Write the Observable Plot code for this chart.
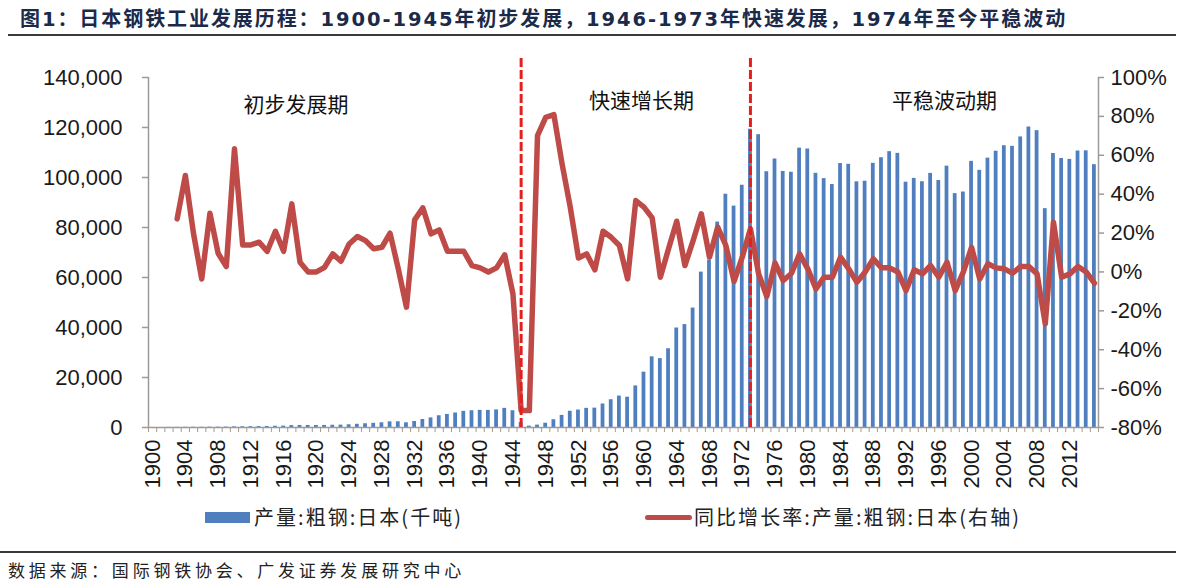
<!DOCTYPE html>
<html><head><meta charset="utf-8">
<script src="https://cdn.jsdelivr.net/npm/d3@7"></script>
<script src="https://cdn.jsdelivr.net/npm/@observablehq/plot@0.6"></script>
<style>
body{margin:0;width:1200px;height:583px;position:relative;background:#fff;overflow:hidden;font-family:"Noto Sans CJK SC","Noto Sans",sans-serif;color:#222}
#title{position:absolute;left:20px;top:3px;font-size:20px;font-weight:700;color:#1c2a4a;white-space:nowrap}
#title .n{font-family:"DejaVu Sans",sans-serif;font-size:19.5px}
.hr{position:absolute;height:2px;background:#3a3a3a}
#chart{position:absolute;left:0;top:40px}
.lg{position:absolute;font-size:20px;white-space:nowrap;color:#222;line-height:1}
.sw{position:absolute}
#foot{position:absolute;left:8px;top:561px;font-size:17px;white-space:nowrap;color:#222;line-height:1}
</style></head>
<body>
<div id="title">图<span class="n">1</span>：日本钢铁工业发展历程：<span class="n">1900-1945</span>年初步发展，<span class="n">1946-1973</span>年快速发展，<span class="n">1974</span>年至今平稳波动</div>
<div class="hr" style="left:8px;top:34px;width:1168px"></div>
<div id="chart"></div>
<div class="sw" style="left:205px;top:512px;width:45px;height:11px;background:#4f7fbf"></div>
<div class="lg" id="lg1" style="left:254px;top:507px">产量:粗钢:日本(千吨)</div>
<div class="sw" style="left:645px;top:515px;width:47px;height:5px;border-radius:3px;background:#be4b48"></div>
<div class="lg" id="lg2" style="left:694px;top:507px">同比增长率:产量:粗钢:日本(右轴)</div>
<div class="hr" style="left:0px;top:551px;width:1176px"></div>
<div id="foot">数据来源：国际钢铁协会、广发证券发展研究中心</div>
<script>
// ---- data ----
const years = d3.range(1900, 2016);
// 产量:粗钢:日本 (千吨), 1900-2015
const production = [
  null, null, 49, 62, 93, 111, 107, 139, 152, 157,
  256, 292, 332, 383, 424, 513, 567, 766, 804, 804,
  811, 823, 900, 949, 1086, 1283, 1490, 1667, 1879, 2253,
  2289, 1883, 2398, 3198, 3844, 4704, 5223, 5801, 6472, 6696,
  6856, 6844, 7044, 7650, 6700, 1963, 557, 952, 1715, 3111,
  4839, 6502, 6988, 7662, 7750, 9408, 11106, 12570, 12118, 16629,
  22138, 28268, 27546, 31501, 39799, 41161, 47784, 62154, 66893, 82166,
  93322, 88557, 96900, 119322, 117131, 102313, 107399, 102405, 102105, 111748,
  111395, 101676, 99548, 97179, 105586, 105279, 98275, 98513, 105681, 107908,
  110339, 109649, 98132, 99632, 98295, 101640, 98801, 104545, 93548, 94192,
  106444, 102866, 107745, 110511, 112718, 112471, 116226, 120203, 118739, 87534,
  109599, 107601, 107232, 110595, 110666, 105134
];
// 同比增长率 (%), 1900-2015
const growth = [
  null, null, null, 27.3, 49.6, 19.6, -3.6, 30.2, 9.6, 2.8,
  63.3, 13.9, 13.9, 15.3, 10.6, 20.9, 10.6, 35.0, 5.0, 0.0,
  0.0, 2.4, 9.3, 5.5, 14.4, 18.2, 16.1, 11.9, 12.7, 19.9,
  1.6, -18.1, 26.8, 33.0, 19.6, 21.6, 10.6, 10.6, 10.6, 3.3,
  2.1, 0.0, 2.1, 8.8, -11.3, -71.3, -71.3, 70.1, 79.5, 80.9,
  55.6, 33.3, 7.2, 9.3, 1.1, 20.9, 17.8, 13.6, -3.6, 36.7,
  33.3, 27.8, -2.7, 11.9, 26.1, 3.3, 16.1, 29.9, 7.6, 23.0,
  13.6, -4.8, 7.6, 22.2, -1.0, -12.6, 4.6, -4.4, -0.8, 9.3,
  1.6, -8.7, -2.7, -2.7, 7.6, 1.6, -5.3, 0.0, 6.7, 2.1,
  2.1, 0.0, -9.6, 1.1, -1.0, 3.3, -2.7, 5.0, -9.6, 0.0,
  12.7, -3.6, 4.2, 2.1, 1.6, -0.6, 2.8, 2.8, -1.0, -26.7,
  25.6, -2.7, -1.0, 2.8, 0.0, -5.8
];
const leftTicks = [0, 20000, 40000, 60000, 80000, 100000, 120000, 140000];
const rightTicks = [-80, -60, -40, -20, 0, 20, 40, 60, 80, 100];
const yearLabels = d3.range(1900, 2013, 4);
const phaseYears = [1945, 1973];
const phaseLabels = ["初步发展期", "快速增长期", "平稳波动期"];
const phaseLabelYear = [1917.5, 1959.7, 1996.7];
const phaseLabelValue = [128800, 130400, 130400];

// ---- build ----
const toY = p => (p + 80) / 180 * 140000;
const bars = years.map((y, i) => ({year: y, value: production[i]})).filter(d => d.value != null);
const line = years.map((y, i) => ({year: y, g: growth[i]})).filter(d => d.g != null);
const phases = phaseLabels.map((t, i) => ({t, x: phaseLabelYear[i], y: phaseLabelValue[i]}));
const x0 = years[0] - 0.5, x1 = years[years.length - 1] + 0.5;
const tickLen = 6 / 8.19;

const chart = Plot.plot({
  width: 1200, height: 470,
  marginLeft: 148, marginRight: 102, marginTop: 37, marginBottom: 83,
  x: {type: "linear", domain: [x0, x1], label: null},
  y: {domain: [0, 140000], label: null},
  style: {fontFamily: "'Liberation Sans', Arial, sans-serif", fontSize: "22px", color: "#1a1a1a", background: "transparent", overflow: "visible"},
  marks: [
    Plot.rectY(bars, {x1: d => d.year - 0.23, x2: d => d.year + 0.23, y: "value", fill: "#4f7fbf", inset: 0}),
    Plot.ruleX([x0, x1], {y1: 0, y2: 140000, stroke: "#9a9a9a", strokeWidth: 1.5}),
    Plot.ruleY([0], {x1: x0, x2: x1, stroke: "#9a9a9a", strokeWidth: 1.5}),
    Plot.ruleY(leftTicks, {x1: x0 - tickLen, x2: x0, stroke: "#9a9a9a", strokeWidth: 1.5}),
    Plot.ruleY(rightTicks.map(toY), {x1: x1, x2: x1 + tickLen, stroke: "#9a9a9a", strokeWidth: 1.5}),
    Plot.axisY(leftTicks, {anchor: "left", tickSize: 0, tickPadding: 26, tickFormat: d3.format(","), fill: "#1a1a1a"}),
    Plot.axisY(rightTicks.map(toY), {anchor: "right", tickSize: 0, tickPadding: 12, tickFormat: v => Math.round(v * 180 / 140000 - 80) + "%", fill: "#1a1a1a"}),
    Plot.axisX(d3.range(x0, x1 + 0.01, 1), {tickSize: 5, tickFormat: () => "", stroke: "#a89a8a"}),
    Plot.axisX(yearLabels, {tickSize: 0, tickPadding: 12, tickRotate: -90, tickFormat: d => String(d), fill: "#1a1a1a"}),
    Plot.line(line, {x: "year", y: d => toY(d.g), stroke: "#be4b48", strokeWidth: 5.5, strokeLinejoin: "round", strokeLinecap: "round"}),
    Plot.ruleX(phaseYears, {y1: 147600, y2: 0, stroke: "#e3201b", strokeWidth: 3, strokeDasharray: "9,3"}),
    Plot.text(phases, {x: "x", y: "y", text: "t", fontSize: 21, fontFamily: "'Noto Sans CJK SC'", fill: "#111"})
  ]
});
document.getElementById("chart").appendChild(chart);

// fit text widths to the reference layout
function fit(id, target) {
  const el = document.getElementById(id);
  const txt = el.textContent.length;
  const w = el.getBoundingClientRect().width;
  el.style.letterSpacing = ((target - w) / txt) + "px";
}
fit("title", 1047);
fit("lg1", 209);
fit("lg2", 327);
fit("foot", 457);
</script>
</body></html>
